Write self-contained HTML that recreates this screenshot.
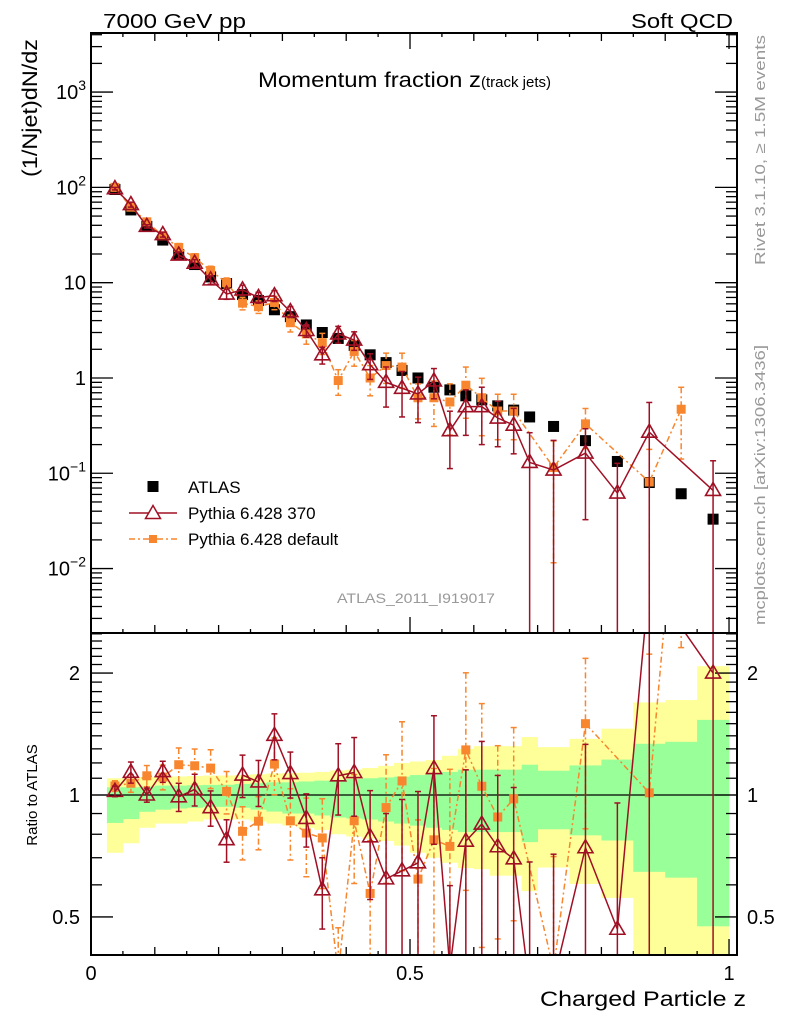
<!DOCTYPE html>
<html><head><meta charset="utf-8"><style>
html,body{margin:0;padding:0;background:#fff;}
svg{display:block;font-family:"Liberation Sans",Arial,sans-serif;}
</style></head><body>
<svg id="chart" width="786" height="1024" viewBox="0 0 786 1024" xmlns="http://www.w3.org/2000/svg">
<defs>
<clipPath id="clipMain"><rect x="91" y="33" width="646" height="600"/></clipPath>
<clipPath id="clipRatio"><rect x="91" y="633" width="646" height="322"/></clipPath>
</defs>
<g id="bands" clip-path="url(#clipRatio)"></g>
<g id="ticks"></g>
<g id="series"></g>
<rect x="91" y="33" width="646" height="600" fill="none" stroke="#000" stroke-width="2"/>
<rect x="91" y="633" width="646" height="322" fill="none" stroke="#000" stroke-width="2"/>
<text x="103" y="28" font-size="20" textLength="143" lengthAdjust="spacingAndGlyphs">7000 GeV pp</text>
<text x="733" y="28" font-size="20" text-anchor="end" textLength="102" lengthAdjust="spacingAndGlyphs">Soft QCD</text>
<text x="258" y="87" font-size="21"><tspan textLength="223" lengthAdjust="spacingAndGlyphs">Momentum fraction z</tspan><tspan font-size="15">(track jets)</tspan></text>
<text transform="translate(37,108) rotate(-90)" font-size="21" text-anchor="middle" textLength="138" lengthAdjust="spacingAndGlyphs">(1/Njet)dN/dz</text>
<text transform="translate(37,795) rotate(-90)" font-size="15" text-anchor="middle">Ratio to ATLAS</text>
<text x="746" y="1006" font-size="21" text-anchor="end" textLength="206" lengthAdjust="spacingAndGlyphs">Charged Particle z</text>
<text transform="translate(765,150) rotate(-90)" font-size="15" fill="#999" text-anchor="middle" textLength="230" lengthAdjust="spacingAndGlyphs">Rivet 3.1.10, ≥ 1.5M events</text>
<text transform="translate(765,485) rotate(-90)" font-size="15" fill="#999" text-anchor="middle" textLength="280" lengthAdjust="spacingAndGlyphs">mcplots.cern.ch [arXiv:1306.3436]</text>
<text x="337" y="603" font-size="14" fill="#999" textLength="158" lengthAdjust="spacingAndGlyphs">ATLAS_2011_I919017</text>
<g>
<g><rect x="147.5" y="481" width="11" height="11" fill="#000"/><text x="188" y="493" font-size="17">ATLAS</text></g>
<g><line x1="129" y1="513" x2="177" y2="513" stroke="#a01025" stroke-width="1.5"/><polygon points="153,505.5 160.5,518.5 145.5,518.5" fill="#fff" stroke="#a01025" stroke-width="1.5"/><text x="188" y="519" font-size="17">Pythia 6.428 370</text></g>
<g><line x1="129" y1="539" x2="177" y2="539" stroke="#f7862f" stroke-width="1.5" stroke-dasharray="6,3,2,3"/><rect x="149" y="535" width="8" height="8" fill="#f7862f"/><text x="188" y="545" font-size="17">Pythia 6.428 default</text></g>
</g>
</svg>
<script>
// ---- data ----
const zCenters = [0.0375,0.0625,0.0875,0.1125,0.1375,0.1625,0.1875,0.2125,0.2375,0.2625,0.2875,0.3125,0.3375,0.3625,0.3875,0.4125,0.4375,0.4625,0.4875,0.5125,0.5375,0.5625,0.5875,0.6125,0.6375,0.6625,0.6875,0.725,0.775,0.825,0.875,0.925,0.975];
const atlasValues = [95,58,39,28,19.7,15.5,11.5,9.8,7.5,6.5,5.2,4.4,3.6,3.0,2.6,2.2,1.75,1.45,1.2,1.0,0.8,0.75,0.65,0.59,0.51,0.46,0.39,0.31,0.22,0.133,0.08,0.061,0.033];
const p370Values = [97,66,39,32,19.5,16,10.7,7.6,8.4,7.0,7.3,4.97,3.15,1.75,2.9,2.5,1.38,0.9,0.78,0.68,0.93,0.28,0.5,0.5,0.38,0.32,0.13,0.108,0.163,0.062,0.27,null,0.066];
const p370RelErr = [.03,.06,.04,.06,.08,.09,.10,.12,.12,.13,.13,.13,.15,.2,.2,.22,.3,.45,.5,.5,.35,.6,.5,.6,.5,.5,1.05,1.05,.8,1.05,1.05,null,1.05];
const pdefValues = [100,62,43.5,31,23.4,18.3,13.4,10,6.1,5.6,6.2,3.8,2.9,2.35,0.94,1.9,1.0,1.35,1.3,0.62,0.62,0.56,0.84,0.62,0.45,0.45,null,0.115,0.33,null,0.081,0.47,null];
const pdefRelErr = [.03,.05,.06,.07,.10,.10,.11,.12,.15,.15,.16,.2,.22,.25,.3,.3,.35,.35,.4,.4,.5,.55,.55,.6,.5,.5,null,.9,.45,null,1.2,.7,null];
const bandEdges = [0.025,0.05,0.075,0.1,0.125,0.15,0.175,0.2,0.225,0.25,0.275,0.3,0.325,0.35,0.375,0.4,0.425,0.45,0.475,0.5,0.525,0.55,0.575,0.6,0.625,0.65,0.675,0.7,0.75,0.8,0.85,0.9,0.95,1.0];
const yellowHi = [1.10,1.10,1.107,1.111,1.111,1.114,1.117,1.117,1.12,1.125,1.13,1.133,1.135,1.14,1.15,1.155,1.166,1.18,1.2,1.21,1.22,1.25,1.30,1.32,1.32,1.32,1.39,1.313,1.376,1.458,1.693,1.716,2.08];
const yellowLo = [0.72,0.76,0.83,0.85,0.85,0.86,0.87,0.87,0.87,0.86,0.85,0.84,0.83,0.82,0.80,0.79,0.78,0.77,0.75,0.72,0.70,0.68,0.66,0.656,0.632,0.632,0.579,0.662,0.603,0.557,0.3,0.3,0.3];
const greenHi = [1.045,1.045,1.049,1.055,1.055,1.057,1.059,1.06,1.065,1.07,1.075,1.075,1.08,1.085,1.09,1.095,1.10,1.105,1.11,1.12,1.13,1.14,1.155,1.155,1.155,1.155,1.188,1.148,1.183,1.223,1.338,1.353,1.533];
const greenLo = [0.853,0.872,0.909,0.92,0.926,0.93,0.935,0.935,0.93,0.92,0.91,0.90,0.90,0.89,0.88,0.875,0.87,0.86,0.85,0.84,0.83,0.82,0.81,0.81,0.81,0.81,0.765,0.823,0.795,0.772,0.646,0.625,0.474];
const mainTickExps = [-2,-1,0,1,2,3];
const mainTickLabels = [["10","−2"],["10","−1"],["1",""],["10",""],["10","2"],["10","3"]];
const ratioTickValues = [0.5,1,2];
const ratioTickLabels = ["0.5","1","2"];
const xTickValues = [0,0.5,1];
const xTickLabels = ["0","0.5","1"];

// ---- axes ----
const X0=91, X1=737, XMAX=1.0125;
const xS = z => X0 + (X1-X0)*z/XMAX;
const MT=33, MB=633, LTOP=3.62, LBOT=-2.676;
const yM = v => MT + (LTOP-Math.log10(v))/(LTOP-LBOT)*(MB-MT);
const RT=633, RB=955;
const yR = r => 795 - 405*Math.log10(r);
const NS="http://www.w3.org/2000/svg";
function mk(tag, attrs, parent){const e=document.createElementNS(NS,tag);for(const k in attrs)e.setAttribute(k,attrs[k]);parent.appendChild(e);return e;}

const bands=document.getElementById('bands');
for(let i=0;i<yellowHi.length;i++){
  const x1=xS(bandEdges[i]), x2=xS(bandEdges[i+1]);
  const r1=mk('rect',{x:x1,y:yR(yellowHi[i]),width:x2-x1+0.4,height:yR(yellowLo[i])-yR(yellowHi[i]),fill:'#ffff99'},bands);
  
  
}
for(let i=0;i<greenHi.length;i++){
  const x1=xS(bandEdges[i]), x2=xS(bandEdges[i+1]);
  const r2=mk('rect',{x:x1,y:yR(greenHi[i]),width:x2-x1+0.4,height:yR(greenLo[i])-yR(greenHi[i]),fill:'#99ff99'},bands);
  
  
}
const ref=mk('line',{x1:X0,x2:X1,y1:yR(1),y2:yR(1),stroke:'#000','stroke-width':1.3},bands);



// ticks
const tk=document.getElementById('ticks');
function tline(x1,y1,x2,y2){mk('line',{x1:x1,y1:y1,x2:x2,y2:y2,stroke:'#000','stroke-width':1.3},tk);}
for(let e=-3;e<=3;e++){
  for(let m=1;m<10;m++){
    const v=m*Math.pow(10,e), y=yM(v);
    if(y<MT||y>MB) continue;
    const L = m===1?22:11;
    tline(X0,y,X0+L,y); tline(X1,y,X1-L,y);
  }
}
for(let r=4;r<=25;r++){
  const v=r/10, y=yR(v);
  if(y<RT||y>RB) continue;
  const L=(r===5||r===10||r===20)?22:11;
  tline(X0,y,X0+L,y); tline(X1,y,X1-L,y);
}
for(let i=0;i<=20;i++){
  const z=i*0.05, x=xS(z);
  const L=(i%10===0)?16:(i%2===0?8:4);
  tline(x,MB,x,MB-L); tline(x,MT,x,MT+L);
  tline(x,RB,x,RB-L);
}
mainTickExps.forEach((e,i)=>{
  const t=mk('text',{x:86,y:yM(Math.pow(10,e))+7,'font-size':20,'text-anchor':'end'},tk);
  
  
  const lab=mainTickLabels[i];
  if(lab[1]){
    const a=document.createElementNS(NS,'tspan');a.textContent=lab[0];t.appendChild(a);
    const b=document.createElementNS(NS,'tspan');b.setAttribute('font-size','14');b.setAttribute('dy','-9');b.textContent=lab[1];t.appendChild(b);
  } else t.textContent=lab[0];
});
ratioTickValues.forEach((v,i)=>{
  const t=mk('text',{x:80,y:yR(v)+7,'font-size':20,'text-anchor':'end'},tk);
  
  
  t.textContent=ratioTickLabels[i];
  const t2=mk('text',{x:747,y:yR(v)+7,'font-size':20},tk);
  
  
  t2.textContent=ratioTickLabels[i];
});
xTickValues.forEach((v,i)=>{
  const t=mk('text',{x:xS(v),y:980,'font-size':20,'text-anchor':'middle'},tk);
  
  
  t.textContent=xTickLabels[i];
});

// series
const sg=document.getElementById('series');
const gMain=mk('g',{'clip-path':'url(#clipMain)'},sg);


const gRatio=mk('g',{'clip-path':'url(#clipRatio)'},sg);



function clampY(y,top,bot){return Math.max(top-20,Math.min(bot+20,y));}

function drawSeries(vals, rel, color, dash, marker, ratio, parent, name){
  const yf = ratio ? (v,i)=>yR(v/atlasValues[i]) : (v)=>yM(v);
  const top = ratio?RT:MT, bot = ratio?RB:MB;
  const pts=[];
  vals.forEach((v,i)=>{ if(v!==null) pts.push([xS(zCenters[i]), clampY(yf(v,i),top-400,bot+400)]); });
  const pl=mk('polyline',{points:pts.map(p=>p.join(',')).join(' '),fill:'none',stroke:color,'stroke-width':1.5},parent);
  if(dash) pl.setAttribute('stroke-dasharray',dash);
  
  
  vals.forEach((v,i)=>{
    if(v===null) return;
    const x=xS(zCenters[i]);
    const lo=v*(1-rel[i]), hi=v*(1+rel[i]);
    const yHi=clampY(yf(hi,i),top,bot);
    const yLo= lo>0 ? clampY(yf(lo,i),top,bot) : bot+20;
    const eb=mk('line',{x1:x,x2:x,y1:yHi,y2:yLo,stroke:color,'stroke-width':1.5},parent);
    if(dash) eb.setAttribute('stroke-dasharray',dash);
    
    
    mk('line',{x1:x-3,x2:x+3,y1:yHi,y2:yHi,stroke:color,'stroke-width':1.5},parent);
    mk('line',{x1:x-3,x2:x+3,y1:yLo,y2:yLo,stroke:color,'stroke-width':1.5},parent);
    const y=yf(v,i);
    let m;
    if(marker==='tri'){
      m=mk('polygon',{points:`${x},${y-8} ${x+7.5},${y+5} ${x-7.5},${y+5}`,fill:'#fff','fill-opacity':0,stroke:color,'stroke-width':1.6},parent);
    } else {
      m=mk('rect',{x:x-4.5,y:y-4.5,width:9,height:9,fill:color},parent);
    }
    
    
  });
}
// ATLAS main markers
atlasValues.forEach((v,i)=>{
  const r=mk('rect',{x:xS(zCenters[i])-5.5,y:yM(v)-5.5,width:11,height:11,fill:'#000'},gMain);
  
  
});
drawSeries(pdefValues,pdefRelErr,'#f7862f','6,3,2,3','sq',false,gMain,'pythia-default');
drawSeries(p370Values,p370RelErr,'#a01025',null,'tri',false,gMain,'pythia-370');
drawSeries(pdefValues,pdefRelErr,'#f7862f','6,3,2,3','sq',true,gRatio,'pythia-default-ratio');
drawSeries(p370Values,p370RelErr,'#a01025',null,'tri',true,gRatio,'pythia-370-ratio');
</script>
</body></html>
